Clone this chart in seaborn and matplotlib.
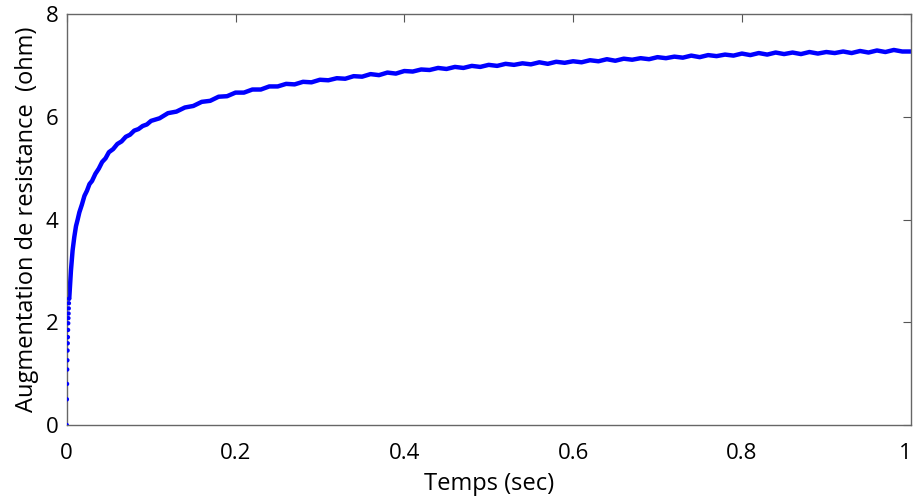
import matplotlib
matplotlib.use('Agg')
import matplotlib.pyplot as plt
import matplotlib.transforms as mtransforms
import seaborn as sns
import pandas as pd

# ---- data ----
t_dots = [0.0000, 0.0002, 0.0004, 0.0006, 0.0008, 0.0010, 0.0012, 0.0014,
          0.0016, 0.0018, 0.0020, 0.0022, 0.0024, 0.0026, 0.0028]
r_dots = [0.00, 0.50, 0.80, 1.08, 1.26, 1.45, 1.59, 1.71,
          1.85, 1.98, 2.08, 2.17, 2.27, 2.37, 2.46]

t_early = [0.003, 0.005, 0.007, 0.009, 0.011, 0.013, 0.015, 0.018, 0.021,
           0.024, 0.027, 0.030, 0.034, 0.038, 0.042, 0.046, 0.050, 0.055,
           0.060, 0.065, 0.070, 0.075, 0.080, 0.085, 0.090, 0.095]
r_early = [2.46, 3.00, 3.40, 3.66, 3.87, 4.00, 4.14, 4.29, 4.46,
           4.56, 4.69, 4.75, 4.89, 4.99, 5.12, 5.19, 5.31, 5.37,
           5.47, 5.52, 5.61, 5.65, 5.73, 5.76, 5.82, 5.85]

t_late = [0.10, 0.11, 0.12, 0.13, 0.14, 0.15, 0.16, 0.17, 0.18, 0.19,
          0.20, 0.21, 0.22, 0.23, 0.24, 0.25, 0.26, 0.27, 0.28, 0.29,
          0.30, 0.31, 0.32, 0.33, 0.34, 0.35, 0.36, 0.37, 0.38, 0.39,
          0.40, 0.41, 0.42, 0.43, 0.44, 0.45, 0.46, 0.47, 0.48, 0.49,
          0.50, 0.51, 0.52, 0.53, 0.54, 0.55, 0.56, 0.57, 0.58, 0.59,
          0.60, 0.61, 0.62, 0.63, 0.64, 0.65, 0.66, 0.67, 0.68, 0.69,
          0.70, 0.71, 0.72, 0.73, 0.74, 0.75, 0.76, 0.77, 0.78, 0.79,
          0.80, 0.81, 0.82, 0.83, 0.84, 0.85, 0.86, 0.87, 0.88, 0.89,
          0.90, 0.91, 0.92, 0.93, 0.94, 0.95, 0.96, 0.97, 0.98, 0.99, 1.00]
r_late = [5.92, 5.97, 6.07, 6.10, 6.18, 6.21, 6.29, 6.31, 6.39, 6.40,
          6.47, 6.47, 6.53, 6.53, 6.59, 6.59, 6.64, 6.63, 6.68, 6.67,
          6.72, 6.71, 6.75, 6.74, 6.79, 6.78, 6.83, 6.81, 6.86, 6.84,
          6.89, 6.88, 6.92, 6.91, 6.95, 6.93, 6.97, 6.95, 6.99, 6.97,
          7.01, 6.99, 7.03, 7.01, 7.04, 7.02, 7.06, 7.03, 7.07, 7.05,
          7.08, 7.06, 7.10, 7.08, 7.12, 7.09, 7.13, 7.11, 7.14, 7.12,
          7.16, 7.14, 7.17, 7.15, 7.19, 7.16, 7.20, 7.18, 7.21, 7.19,
          7.23, 7.20, 7.24, 7.21, 7.25, 7.22, 7.25, 7.22, 7.26, 7.23,
          7.26, 7.24, 7.27, 7.24, 7.28, 7.25, 7.29, 7.26, 7.30, 7.27, 7.27]

x_ticks = [0, 0.2, 0.4, 0.6, 0.8, 1.0]
x_ticklabels = ['0', '0.2', '0.4', '0.6', '0.8', '1']
y_ticks = [0, 2, 4, 6, 8]
y_ticklabels = ['0', '2', '4', '6', '8']

sns.set_theme(style='white')
plt.rcParams['font.family'] = ['Open Sans', 'DejaVu Sans']

fig = plt.figure(figsize=(9.15, 5.0), dpi=100)
ax = fig.add_axes([0.0729, 0.15, 0.9224, 0.822])

curve = pd.DataFrame({'t': t_early + t_late, 'r': r_early + r_late})
sns.lineplot(data=curve, x='t', y='r', ax=ax, color='#0000ff', lw=3.2,
             solid_capstyle='round', solid_joinstyle='round')
sns.scatterplot(x=t_dots, y=r_dots, ax=ax, color='#0000ff', s=10,
                edgecolor='none', zorder=3)

ax.set_xlim(0, 1)
ax.set_ylim(0, 8)
ax.set_xticks(x_ticks)
ax.set_xticklabels(x_ticklabels)
ax.set_yticks(y_ticks)
ax.set_yticklabels(y_ticklabels)
ax.tick_params(direction='in', length=6, width=0.8, color='#555555',
               top=True, right=True, labelsize=16, labelcolor='black')
ax.tick_params(axis='x', pad=13)
ax.tick_params(axis='y', pad=6)
for sp in ax.spines.values():
    sp.set_color('#666666')
    sp.set_linewidth(1.0)

# keep the last x tick label inside the canvas, as in the reference
last = ax.get_xticklabels()[-1]
last.set_transform(last.get_transform() +
                   mtransforms.ScaledTranslation(-4 / 72, 0, fig.dpi_scale_trans))

ax.set_xlabel('Temps (sec)', fontsize=17, labelpad=6, color='black')
ax.set_ylabel('Augmentation de resistance  (ohm)', fontsize=17,
              labelpad=5, color='black')

fig.savefig('out.png', dpi=100)
